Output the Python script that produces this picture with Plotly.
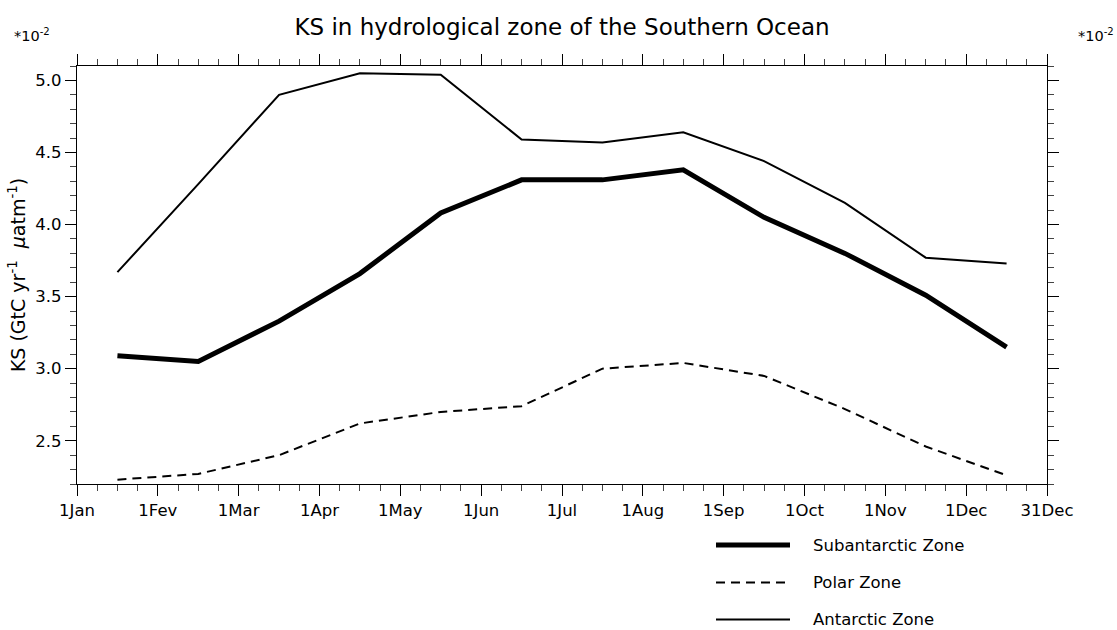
import plotly.graph_objects as go

# ---- data (values in units of 1e-2 GtC yr-1 uatm-1) ----
month_pos = [0.5, 1.5, 2.5, 3.5, 4.5, 5.5, 6.5, 7.5, 8.5, 9.5, 10.5, 11.5]
subantarctic = [3.09, 3.05, 3.33, 3.66, 4.08, 4.31, 4.31, 4.38, 4.05, 3.80, 3.51, 3.15]
polar = [2.23, 2.27, 2.40, 2.62, 2.70, 2.74, 3.00, 3.04, 2.95, 2.72, 2.46, 2.26]
antarctic = [3.67, 4.28, 4.90, 5.05, 5.04, 4.59, 4.57, 4.64, 4.44, 4.15, 3.77, 3.73]
tick_vals = list(range(13))
tick_text = ["1Jan", "1Fev", "1Mar", "1Apr", "1May", "1Jun", "1Jul", "1Aug",
             "1Sep", "1Oct", "1Nov", "1Dec", "31Dec"]
series_names = ["Subantarctic Zone", "Polar Zone", "Antarctic Zone"]

FONT = "DejaVu Sans"
PW, PH = 1117, 630              # page size
L, R, T, B = 77, 1047, 66, 484  # plot area in page pixels
W, H = PW, PH

def px(x):
    return (x - L) / (R - L)

def py(y):
    return (B - y) / (B - T)

styles = [dict(color="black", width=5, dash="solid"),
          dict(color="black", width=2, dash="9px,6px"),
          dict(color="black", width=2, dash="solid")]

fig = go.Figure()
for name, vals, st in zip(series_names, [subantarctic, polar, antarctic], styles):
    fig.add_trace(go.Scatter(x=month_pos, y=vals, mode="lines", name=name,
                             line=st, showlegend=False))

axis_common = dict(showgrid=False, zeroline=False, showline=True, linecolor="black",
                   linewidth=1.3, mirror="allticks", ticks="outside", ticklen=11,
                   tickwidth=1, tickcolor="black",
                   tickfont=dict(family=FONT, size=16.5, color="black"))

fig.update_xaxes(range=[0, 12], tickmode="array", tickvals=tick_vals, ticktext=tick_text,
                 minor=dict(ticks="outside", ticklen=6, dtick=0.25, tick0=0,
                            tickcolor="#444", tickwidth=1),
                 **axis_common)
fig.update_yaxes(range=[2.2, 5.1], tickmode="linear", tick0=2.5, dtick=0.5,
                 tickformat=".1f",
                 minor=dict(ticks="outside", ticklen=6, dtick=0.1, tick0=2.2,
                            tickcolor="#444", tickwidth=1),
                 title=dict(text="KS (GtC yr<sup>-1</sup>  <i>μ</i>atm<sup>-1</sup>)",
                            font=dict(family=FONT, size=19, color="black"), standoff=4),
                 **axis_common)

# legend drawn manually
leg_y = [545, 582.5, 619.5]
for name, st, yy in zip(series_names, styles, leg_y):
    fig.add_shape(type="line", xref="paper", yref="paper",
                  x0=px(716), x1=px(790), y0=py(yy), y1=py(yy),
                  line=dict(color=st["color"], width=st["width"], dash=st["dash"]))
    fig.add_annotation(xref="paper", yref="paper", x=px(811), y=py(yy), text=name,
                       showarrow=False, xanchor="left", yanchor="middle",
                       font=dict(family=FONT, size=16.5, color="black"))

for xx in [12, 1076]:
    fig.add_annotation(xref="paper", yref="paper", x=px(xx), y=py(35),
                       text="*10<sup>-2</sup>", showarrow=False,
                       xanchor="left", yanchor="middle",
                       font=dict(family=FONT, size=14.5, color="black"))

fig.update_layout(
    width=W, height=H,
    margin=dict(l=L, r=PW - R, t=T, b=PH - B, autoexpand=False),
    paper_bgcolor="white", plot_bgcolor="white",
    title=dict(text="KS in hydrological zone of the Southern Ocean",
               x=((L + R) / 2) / W, xanchor="center",
               y=1 - 27 / H, yanchor="middle",
               font=dict(family=FONT, size=23, color="black")),
)

fig.write_html("out.html",
               config={"displayModeBar": False},
               post_script="document.body.style.margin='0';"
                           "document.body.style.overflow='hidden';")
